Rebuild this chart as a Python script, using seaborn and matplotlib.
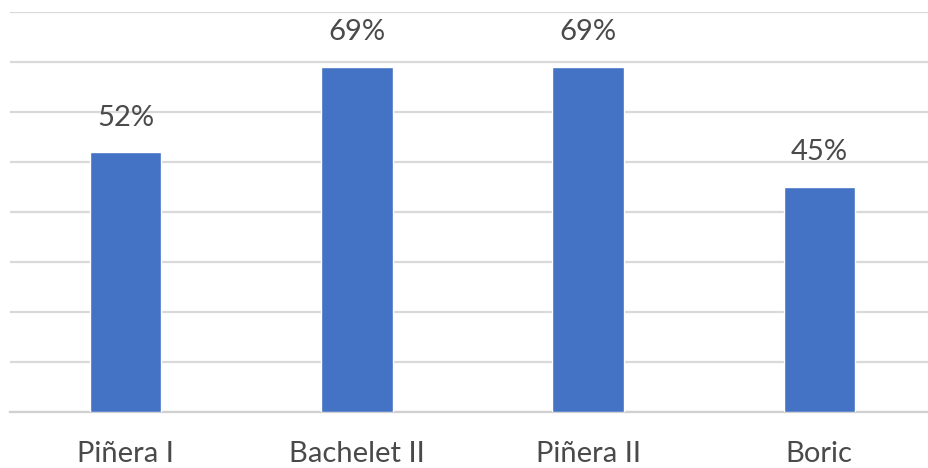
import pandas as pd
import numpy as np
import matplotlib.pyplot as plt
import seaborn as sns

# Approval by government
gobiernos = ['Piñera I', 'Bachelet II', 'Piñera II', 'Boric']
aprobacion = [52, 69, 69, 45]

df = pd.DataFrame({'gobierno': gobiernos, 'aprobacion': aprobacion})

sns.set_style('white')
plt.rcParams['font.family'] = ['Lato', 'DejaVu Sans']

fig = plt.figure(figsize=(9.29, 4.68), dpi=100)
ax = fig.add_axes([10 / 929, 1 - 412 / 468, 925 / 929, 400 / 468])

sns.barplot(data=df, x='gobierno', y='aprobacion', color='#4472C4',
            width=0.31, saturation=1, ax=ax, zorder=3)

ax.set_ylim(0, 80)
ax.set_yticks(np.arange(0, 81, 10))
ax.yaxis.grid(True, color='#D9D9D9', linewidth=1.6, zorder=0)
ax.set_yticklabels([])
ax.tick_params(axis='y', length=0)
ax.tick_params(axis='x', length=0, pad=21, labelsize=21, labelcolor='#4a4a4a')
ax.set_xlabel('')
ax.set_ylabel('')
for side in ['top', 'right', 'left']:
    ax.spines[side].set_visible(False)
ax.spines['bottom'].set_color('#D0D0D0')
ax.spines['bottom'].set_linewidth(1.6)

# Value labels above bars
for i, v in enumerate(aprobacion):
    ax.text(i, v + 4.3, f'{v}%', ha='center', va='bottom',
            fontsize=21, color='#4a4a4a')

fig.savefig('out.png', dpi=100)
